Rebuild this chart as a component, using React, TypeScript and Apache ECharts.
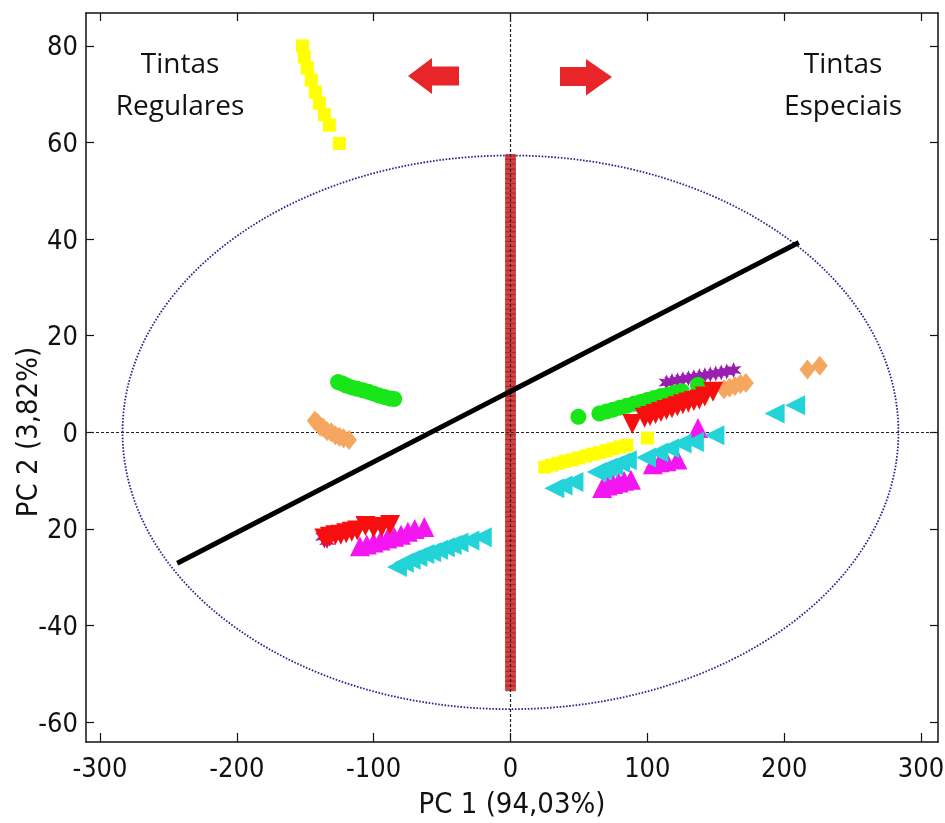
import React, { useEffect, useRef } from "react";
import * as echarts from "echarts";

const xTicks = [-300, -200, -100, 0, 100, 200, 300];
const yTicks = [-60, -40, -20, 0, 20, 40, 60, 80];
const yTickLabels = ["-60", "-40", "20", "0", "20", "40", "60", "80"];

const yellowSquares = [
  [-152, 80], [-150.7, 77.7], [-148.5, 75.4], [-145.6, 72.9], [-142.6, 70.4], [-139.7, 68.1],
  [-136, 65.8], [-132.4, 63.6], [-125, 59.8],
  [25, -7.2], [30, -6.8], [35, -6.4], [40, -6.0], [45, -5.7], [50, -5.3], [55, -4.9],
  [60, -4.5], [65, -4.2], [70, -3.8], [75, -3.4], [80, -3.0], [85, -2.7], [100, -1.2],
];
const greenCircles = [
  [-126, 10.4], [-123, 10.1], [-120, 9.7], [-116, 9.3], [-112, 9.0], [-108, 8.7], [-104, 8.4],
  [-100, 8.0], [-96, 7.6], [-92, 7.3], [-88, 7.0], [-85, 6.9],
  [49.6, 3.2], [65, 3.9], [70, 4.3], [75, 4.7], [80, 5.1], [85, 5.5], [90, 5.9], [95, 6.3],
  [100, 6.7], [105, 7.1], [110, 7.5], [115, 7.8], [120, 8.2], [125, 8.5], [137, 9.8],
];
const orangeDiamonds = [
  [-143, 2.4], [-141, 2.0], [-139, 1.2], [-137, 1.0], [-134, 0.2], [-131, 0.0], [-128, -0.6],
  [-125, -0.9], [-122, -1.2], [-118, -1.6],
  [156, 8.9], [160, 9.3], [164, 9.6], [168, 10.0], [172, 10.2], [217, 13.0], [226, 13.8],
];
const purpleStars = [
  [-137, -21.6], [-134, -22.5], [-131, -21.5],
  [114, 10.3], [118, 10.6], [122, 10.8], [126, 11.0], [130, 11.2], [134, 11.4], [138, 11.6],
  [142, 11.8], [146, 12.0], [150, 12.2], [154, 12.4], [158, 12.6], [163, 12.9],
];
const redDownTriangles = [
  [-136, -22.0], [-132, -21.6], [-128, -21.3], [-124, -21.2], [-120, -20.9], [-116, -20.6],
  [-112, -20.3], [-106, -19.4], [-100, -19.8], [-94, -19.6], [-88, -19.2],
  [89, 1.7], [98, 3.0], [102, 3.4], [106, 3.8], [110, 4.2], [114, 4.6], [118, 5.0], [122, 5.4],
  [126, 5.8], [130, 6.2], [134, 6.5], [138, 6.8], [142, 7.4], [148, 8.4],
];
const magentaUpTriangles = [
  [-110, -23.6], [-105, -23.2], [-100, -22.8], [-95, -22.4], [-90, -22.0], [-85, -21.6],
  [-80, -21.2], [-75, -20.6], [-70, -20.0], [-63, -19.6],
  [67, -11.5], [71, -11.0], [75, -10.7], [79, -10.4], [83, -10.0], [88, -9.8],
  [104, -6.6], [109, -6.2], [114, -6.0], [122, -5.6], [137, 0.9],
];
const cyanLeftTriangles = [
  [-83, -27.9], [-78, -27.0], [-73, -26.4], [-68, -25.8], [-63, -25.2], [-58, -24.8],
  [-53, -24.3], [-48, -23.8], [-43, -23.3], [-38, -22.8], [-30, -22.4], [-21, -21.7],
  [32, -11.6], [38, -11.0], [46, -10.3], [63, -8.2], [67, -7.8], [71, -7.3], [75, -6.9],
  [80, -6.3], [85, -5.8], [99, -5.2], [108, -4.2], [116, -3.3], [125, -2.3], [134, -2.0],
  [149, -0.6], [193, 3.9], [208, 5.6],
];
const loadingsY = [
  57, 56, 55, 54, 53, 52, 51, 50, 49, 48, 47, 46, 45, 44, 43, 42, 41, 40, 39, 38, 37, 36, 35,
  34, 33, 32, 31, 30, 29, 28, 27, 26, 25, 24, 23, 22, 21, 20, 19, 18, 17, 16, 15, 14, 13, 12,
  11, 10, 9, 8, 7, 6, 5, 4, 3, 2, 1, 0, -1, -2, -3, -4, -5, -6, -7, -8, -9, -10, -11, -12,
  -13, -14, -15, -16, -17, -18, -19, -20, -21, -22, -23, -24, -25, -26, -27, -28, -29, -30,
  -31, -32, -33, -34, -35, -36, -37, -38, -39, -40, -41, -42, -43, -44, -45, -46, -47, -48,
  -49, -50, -51, -52, -53,
];
const separatorLine = [[-243.5, -27.1], [210.7, 39.3]];
const ellipseCenter = [0, 0];
const ellipseRadii = [283.5, 57.3];

const STAR =
  "path://M50,0 L61,30 L93,25 L72,50 L93,75 L61,70 L50,100 L39,70 L7,75 L28,50 L7,25 L39,30 Z";

const NARROW = "'Liberation Sans Narrow', 'DejaVu Sans Condensed', sans-serif";
const LABEL_FONT = "'Open Sans', sans-serif";

export default function App() {
  const ref = useRef<HTMLDivElement>(null);
  useEffect(() => {
    if (!ref.current) return;
    const chart = echarts.init(ref.current, null, { renderer: "svg" });
    const xMin = -310.2, xMax = 312.4, yMin = -64.1, yMax = 86.8;
    const frameAxis = {
      axisLine: { show: true, onZero: false, lineStyle: { color: "#111", width: 1.5 } },
      splitLine: { show: false },
    };
    const scatter = (name: string, data: number[][], symbol: string, size: any, color: string, rotate = 0) => ({
      type: "scatter",
      name,
      data,
      symbol,
      symbolSize: size,
      symbolRotate: rotate,
      itemStyle: { color, opacity: 1 },
      z: 5,
    });
    const txt = (text: string, x: number, y: number) => ({
      type: "text", x, y,
      style: { text, fontFamily: LABEL_FONT, fontSize: 28, fill: "#111", align: "center", verticalAlign: "middle" },
    });
    chart.setOption({
      animation: false,
      grid: { left: 86, right: 7, top: 13, bottom: 81, outerBoundsMode: "none", containLabel: false },
      xAxis: [
        {
          type: "value", min: xMin, max: xMax, position: "bottom", ...frameAxis,
          axisTick: { show: true, inside: true, length: 9, customValues: xTicks, lineStyle: { color: "#111", width: 1.2 } },
          axisLabel: { customValues: xTicks, fontFamily: NARROW, fontSize: 27, color: "#111", margin: 12 },
          name: "PC 1 (94,03%)", nameLocation: "middle", nameGap: 46,
          nameTextStyle: { fontFamily: NARROW, fontSize: 29, color: "#111" },
        },
        {
          type: "value", min: xMin, max: xMax, position: "top", ...frameAxis,
          axisTick: { show: true, inside: true, length: 8, customValues: xTicks, lineStyle: { color: "#111", width: 1.2 } },
          axisLabel: { show: false },
        },
      ],
      yAxis: [
        {
          type: "value", min: yMin, max: yMax, position: "left", ...frameAxis,
          axisTick: { show: true, inside: true, length: 8, customValues: yTicks, lineStyle: { color: "#111", width: 1.2 } },
          axisLabel: {
            customValues: yTicks, fontFamily: NARROW, fontSize: 27, color: "#111", margin: 8,
            formatter: (v: number) => yTickLabels[yTicks.indexOf(Math.round(v))],
          },
        },
        {
          type: "value", min: yMin, max: yMax, position: "right", ...frameAxis,
          axisTick: { show: true, inside: true, length: 8, customValues: yTicks, lineStyle: { color: "#111", width: 1.2 } },
          axisLabel: { show: false },
        },
      ],
      graphic: [
        txt("Tintas", 180, 62),
        txt("Regulares", 180, 104),
        txt("Tintas", 843, 62),
        txt("Especiais", 843, 104),
        {
          type: "text", x: 27, y: 432, rotation: Math.PI / 2,
          style: { text: "PC 2 (3,82%)", fontFamily: NARROW, fontSize: 29, fill: "#111", align: "center", verticalAlign: "middle" },
        },
        {
          type: "polygon",
          shape: { points: [[408, 76], [432, 58], [432, 66.5], [459, 66.5], [459, 85.5], [432, 85.5], [432, 94]] },
          style: { fill: "#e8262a" },
        },
        {
          type: "polygon",
          shape: { points: [[612, 77], [586, 59], [586, 67], [560, 67], [560, 86], [586, 86], [586, 95.5]] },
          style: { fill: "#e8262a" },
        },
      ],
      series: [
        {
          type: "custom",
          name: "ellipse",
          data: [[ellipseCenter[0], ellipseCenter[1], ellipseRadii[0], ellipseRadii[1]]],
          renderItem: (params: any, api: any) => {
            const c = api.coord([api.value(0), api.value(1)]);
            const s = api.size([api.value(2), api.value(3)]);
            return {
              type: "ellipse",
              shape: { cx: c[0], cy: c[1], rx: s[0], ry: s[1] },
              style: { fill: "none", stroke: "#28288a", lineWidth: 1.8, lineDash: [1.6, 1.6] },
            };
          },
          z: 2,
          silent: true,
        },
        {
          type: "line",
          name: "axes",
          data: [],
          markLine: {
            silent: true,
            symbol: "none",
            label: { show: false },
            lineStyle: { color: "#222", width: 1.2, type: [3, 2] },
            data: [{ xAxis: 0 }, { yAxis: 0 }],
          },
          z: 1,
        },
        {
          type: "scatter",
          name: "loadings",
          data: loadingsY.map((y) => [0, y]),
          symbol: "rect",
          symbolSize: [10, 5],
          itemStyle: { color: "#c81414", borderColor: "#a81010", borderWidth: 0.6 },
          z: 3,
        },
        scatter("purple", purpleStars, STAR, 16, "#9a1fb0"),
        scatter("green", greenCircles, "circle", 16, "#19e619"),
        scatter("orange", orangeDiamonds, "diamond", [16, 20], "#f5a65f"),
        scatter("magenta", magentaUpTriangles, "triangle", 20, "#f316f0"),
        scatter("cyan", cyanLeftTriangles, "triangle", 20, "#22d3d8", 90),
        scatter("red", redDownTriangles, "triangle", 20, "#f70f0f", 180),
        scatter("yellow", yellowSquares, "rect", 13, "#ffff00"),
        {
          type: "line",
          name: "separator",
          data: separatorLine,
          symbol: "none",
          lineStyle: { color: "#000", width: 5 },
          z: 6,
        },
      ],
    });
    return () => chart.dispose();
  }, []);
  return <div ref={ref} style={{ position: "fixed", left: 0, top: 0, width: 945, height: 823 }} />;
}
